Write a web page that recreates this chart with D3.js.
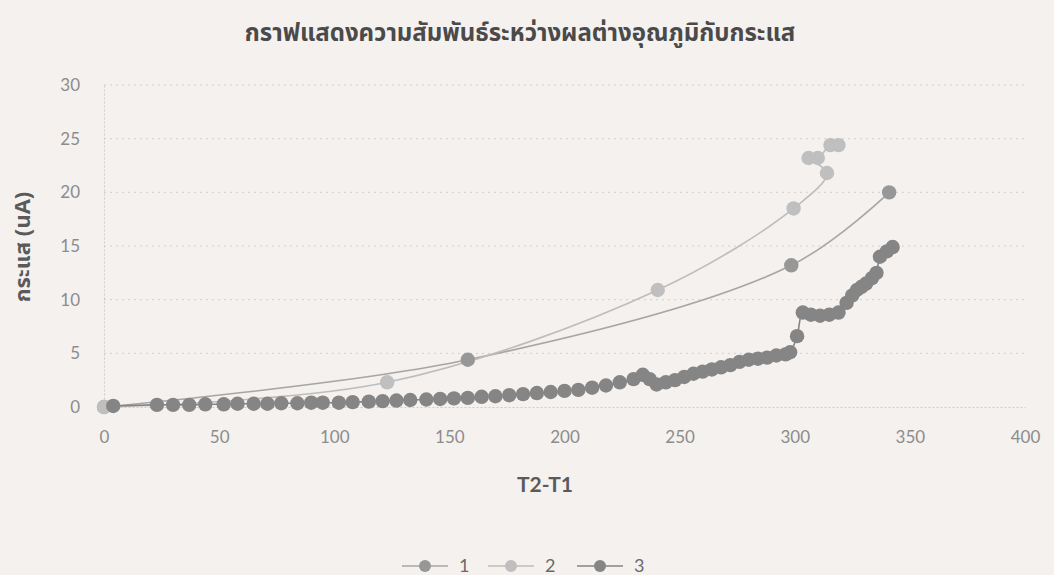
<!DOCTYPE html>
<html>
<head>
<meta charset="utf-8">
<script src="https://cdn.jsdelivr.net/npm/d3@7"></script>
<style>
  html, body { margin: 0; padding: 0; background: #f4f1ef; }
  svg { display: block; }
</style>
</head>
<body>
<svg id="chart" width="1054" height="575"></svg>
<script>
// Temperature difference (T2-T1) vs current (uA) for three runs
const chartTitle = "กราฟแสดงความสัมพันธ์ระหว่างผลต่างอุณภูมิกับกระแส";
const xTitle = "T2-T1";
const yTitle = "กระแส (uA)";
const seriesNames = ["1", "2", "3"];

const xTicks = [0, 50, 100, 150, 200, 250, 300, 350, 400];
const yTicks = [0, 5, 10, 15, 20, 25, 30];

const series1 = [[0, 0], [158, 4.4], [298.5, 13.2], [341, 20.0]];
const series2 = [[0, 0], [123, 2.3], [240.5, 10.9], [299.5, 18.5], [314, 21.8],
                 [306, 23.2], [310, 23.2], [315.5, 24.4], [319, 24.4]];
const series3 = [[4, 0.1], [23, 0.2], [30, 0.2], [37, 0.2], [44, 0.25], [52, 0.25],
  [58, 0.3], [65, 0.3], [71, 0.3], [77, 0.35], [84, 0.35], [90, 0.4], [95, 0.4],
  [102, 0.4], [108, 0.45], [115, 0.5], [121, 0.55], [127, 0.6], [133, 0.65],
  [140, 0.7], [146, 0.75], [152, 0.8], [158, 0.85], [164, 0.95], [170, 1.0],
  [176, 1.1], [182, 1.2], [188, 1.3], [194, 1.4], [200, 1.5], [206, 1.6],
  [212, 1.8], [218, 2.0], [224, 2.3], [230, 2.6], [234, 3.0], [237, 2.6],
  [240, 2.1], [244, 2.3], [248, 2.5], [252, 2.8], [256, 3.1], [260, 3.3],
  [264, 3.5], [268, 3.7], [272, 3.9], [276, 4.2], [280, 4.4], [284, 4.5],
  [288, 4.6], [292, 4.8], [296, 4.9], [298, 5.1], [301, 6.6], [303.5, 8.8],
  [307, 8.6], [311, 8.5], [315, 8.6], [319, 8.8], [322.5, 9.7], [325, 10.4],
  [327, 10.9], [329, 11.2], [331, 11.5], [333.5, 12.0], [335.5, 12.5],
  [337, 14.0], [340, 14.5], [342.5, 14.9]];

const seriesData = [series1, series2, series3];
const markerColors = ["#979797", "#bfbfbf", "#858585"];
const lineColors = ["#a6a6a6", "#bdbdbd", "#858585"];

const svg = d3.select("#chart");
const plot = { left: 104, right: 1025, top: 85, bottom: 407 };

const x = d3.scaleLinear().domain([0, 400]).range([plot.left, plot.right]);
const y = d3.scaleLinear().domain([0, 30]).range([plot.bottom, plot.top]);

const tickFont = "Lato, 'Open Sans', sans-serif";
const thaiFont = "'Noto Sans Thai', 'Noto Sans', 'DejaVu Sans', sans-serif";

// Horizontal gridlines
svg.append("g")
  .selectAll("line")
  .data(yTicks.filter(d => d > 0))
  .join("line")
  .attr("x1", plot.left).attr("x2", plot.right)
  .attr("y1", d => y(d)).attr("y2", d => y(d))
  .attr("stroke", "#d2cfcd").attr("stroke-width", 1)
  .attr("stroke-dasharray", "2,4");

// Axes
const xAxis = svg.append("g")
  .attr("transform", `translate(0,${plot.bottom})`)
  .call(d3.axisBottom(x).tickValues(xTicks).tickSize(0).tickPadding(24));
const yAxis = svg.append("g")
  .attr("transform", `translate(${plot.left},0)`)
  .call(d3.axisLeft(y).tickValues(yTicks).tickSize(0).tickPadding(24));

[xAxis, yAxis].forEach(g => {
  g.select(".domain").attr("stroke", "#cfcbc9").attr("stroke-width", 1)
    .attr("stroke-dasharray", "2,2");
  g.selectAll("text")
    .attr("font-family", tickFont)
    .attr("font-size", 17)
    .attr("fill", "#8c8c8c");
});

// Lines
const line = d3.line()
  .x(d => x(d[0])).y(d => y(d[1]))
  .curve(d3.curveCatmullRom.alpha(0.5));

seriesData.forEach((data, i) => {
  svg.append("path")
    .datum(data)
    .attr("fill", "none")
    .attr("stroke", lineColors[i])
    .attr("stroke-width", 1.6)
    .attr("d", line);
});

// Markers (series 3 on top)
seriesData.forEach((data, i) => {
  svg.append("g")
    .selectAll("circle")
    .data(data)
    .join("circle")
    .attr("cx", d => x(d[0]))
    .attr("cy", d => y(d[1]))
    .attr("r", 7.2)
    .attr("fill", markerColors[i]);
});

// Title
svg.append("text")
  .attr("x", 520).attr("y", 41)
  .attr("text-anchor", "middle")
  .attr("font-family", thaiFont)
  .attr("font-weight", "bold")
  .attr("font-size", 24)
  .attr("fill", "#4a4a4a")
  .text(chartTitle);

// Axis titles
svg.append("text")
  .attr("x", 545).attr("y", 492)
  .attr("text-anchor", "middle")
  .attr("font-family", tickFont)
  .attr("font-weight", "bold")
  .attr("font-size", 21)
  .attr("fill", "#5a5a5a")
  .text(xTitle);

svg.append("text")
  .attr("transform", "translate(30,247) rotate(-90)")
  .attr("text-anchor", "middle")
  .attr("font-family", thaiFont)
  .attr("font-weight", "bold")
  .attr("font-size", 22)
  .attr("fill", "#5a5a5a")
  .text(yTitle);

// Legend
const legendX = [402, 488, 577];
const legend = svg.append("g");
seriesNames.forEach((name, i) => {
  const g = legend.append("g").attr("transform", `translate(${legendX[i]},566)`);
  g.append("line").attr("x1", 0).attr("x2", 46).attr("y1", 0).attr("y2", 0)
    .attr("stroke", lineColors[i]).attr("stroke-width", 1.6);
  g.append("circle").attr("cx", 23).attr("cy", 0).attr("r", 6)
    .attr("fill", markerColors[i]);
  g.append("text").attr("x", 57).attr("y", 6)
    .attr("font-family", tickFont).attr("font-size", 18)
    .attr("fill", "#6a6a6a").text(name);
});
</script>
</body>
</html>
